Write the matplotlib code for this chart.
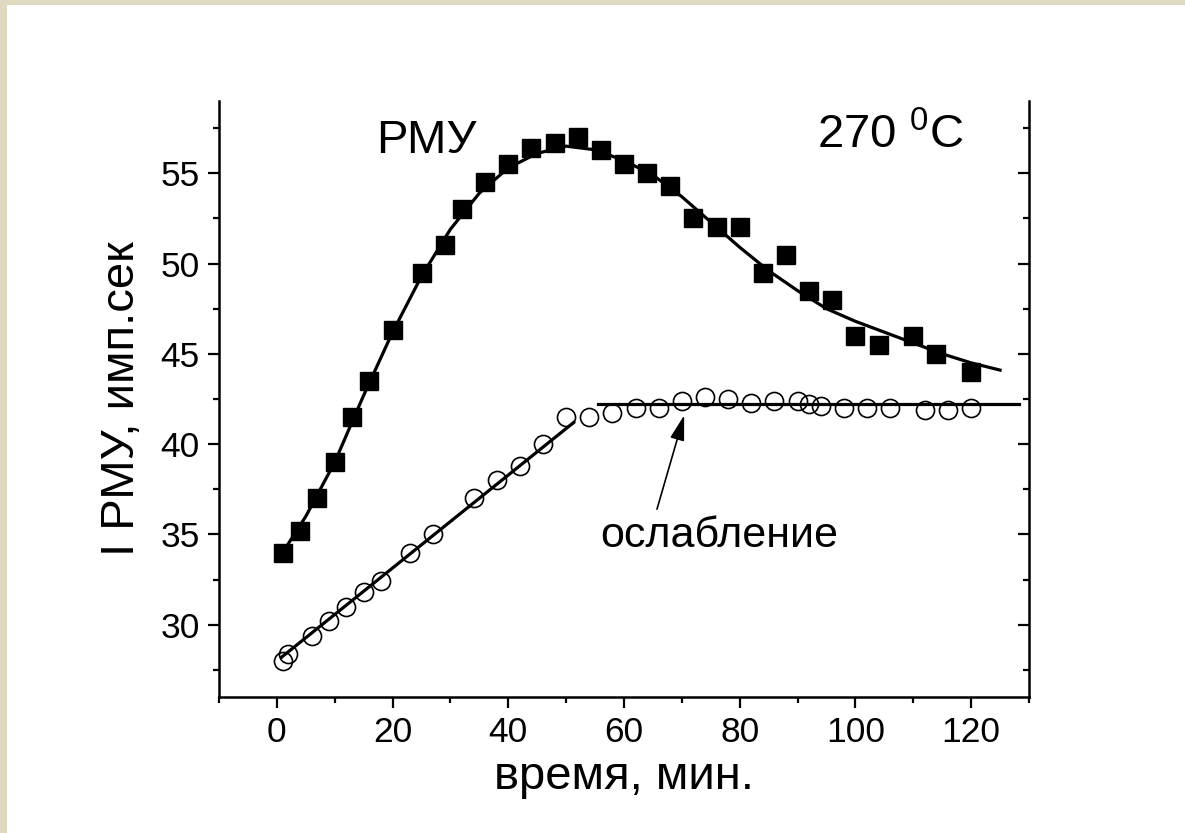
import matplotlib.pyplot as plt
from matplotlib.patches import Rectangle

plt.rcParams['font.family'] = ['Liberation Sans', 'DejaVu Sans']
plt.rcParams['mathtext.fontset'] = 'custom'
plt.rcParams['mathtext.rm'] = 'Liberation Sans'

# filled squares: PMY signal
sq_x = [1, 4, 7, 10, 13, 16, 20, 25, 29, 32, 36, 40, 44, 48, 52, 56, 60, 64,
        68, 72, 76, 80, 84, 88, 92, 96, 100, 104, 110, 114, 120]
sq_y = [34.0, 35.2, 37.0, 39.0, 41.5, 43.5, 46.3, 49.5, 51.0, 53.0, 54.5, 55.5,
        56.4, 56.7, 57.0, 56.3, 55.5, 55.0, 54.3, 52.5, 52.0, 52.0, 49.5, 50.5,
        48.5, 48.0, 46.0, 45.5, 46.0, 45.0, 44.0]

# smooth fit through squares
fit_x = [1, 5, 10, 15, 20, 25, 30, 35, 40, 45, 50, 55, 60, 65, 70, 75, 80,
         85, 90, 95, 100, 105, 110, 115, 120, 125]
fit_y = [34.0, 36.0, 39.0, 42.7, 46.2, 49.3, 51.9, 53.9, 55.3, 56.1, 56.5,
         56.3, 55.7, 54.9, 53.7, 52.3, 50.9, 49.6, 48.5, 47.5, 46.8, 46.2,
         45.6, 45.0, 44.5, 44.1]

# open circles
oc_x = [1, 2, 6, 9, 12, 15, 18, 23, 27, 34, 38, 42, 46, 50, 54, 58, 62, 66,
        70, 74, 78, 82, 86, 90, 92, 94, 98, 102, 106, 112, 116, 120]
oc_y = [28.0, 28.4, 29.4, 30.2, 31.0, 31.8, 32.4, 34.0, 35.0, 37.0, 38.0, 38.8,
        40.0, 41.5, 41.5, 41.7, 42.0, 42.0, 42.4, 42.6, 42.5, 42.3, 42.4, 42.4,
        42.2, 42.1, 42.0, 42.0, 42.0, 41.9, 41.9, 42.0]

lin_x = [0.8, 51.3]
lin_y = [28.2, 41.2]
flat_x = [55.5, 128.3]
flat_y = [42.25, 42.25]

fig = plt.figure(figsize=(11.85, 8.33), dpi=100)
fig.patch.set_facecolor('#dfd9c2')
fig.patches.append(Rectangle((7 / 1185, 0), 1, 1 - 5 / 833, transform=fig.transFigure,
                             facecolor='white', edgecolor='none', zorder=-1))

ax = fig.add_axes([219 / 1185, 1 - 697 / 833, 810 / 1185, 596 / 833])
ax.set_facecolor('none')

ax.plot(fit_x, fit_y, color='black', lw=2.3, zorder=2)
ax.plot(sq_x, sq_y, 's', color='black', ms=12.3, zorder=3)
ax.plot(lin_x, lin_y, color='black', lw=2.3, zorder=2)
ax.plot(flat_x, flat_y, color='black', lw=2.3, zorder=2)
ax.plot(oc_x, oc_y, 'o', mfc='none', mec='black', mew=1.2, ms=13, zorder=3)

ax.set_xlim(-10, 130)
ax.set_ylim(26, 59)
ax.set_xticks(range(0, 121, 20))
ax.set_xticks(range(-10, 131, 20), minor=True)
ax.set_yticks(range(30, 56, 5))
ax.set_yticks([27.5 + 5 * i for i in range(7)], minor=True)

ax.spines['top'].set_visible(False)
for s in ['left', 'right', 'bottom']:
    ax.spines[s].set_linewidth(1.8)

ax.tick_params(axis='both', which='major', labelsize=25.5, width=1.6, length=8, direction='out', pad=6)
ax.tick_params(axis='both', which='minor', width=1.6, length=4.5, direction='out')
ax.tick_params(axis='y', which='both', right=True, labelright=False)
# right-side ticks point inward
for t in ax.yaxis.get_major_ticks() + ax.yaxis.get_minor_ticks():
    t.tick2line.set_marker(0)

ax.set_xlabel('время, мин.', fontsize=34, labelpad=4)
ax.set_ylabel('I РМУ, имп.сек', fontsize=34, labelpad=12)

ax.text(17.1, 56.1, 'РМУ', fontsize=34, ha='left', va='baseline')
ax.text(93.4, 56.4, '270 $^{0}$C', fontsize=34, ha='left', va='baseline')
ax.text(76.4, 34.3, 'ослабление', fontsize=31, ha='center', va='baseline')
ax.annotate('', xy=(70.4, 41.6), xytext=(65.7, 36.4),
            arrowprops=dict(arrowstyle='-|>,head_length=0.7,head_width=0.2',
                            color='black', lw=1.2,
                            mutation_scale=22, shrinkA=0, shrinkB=0))

fig.savefig('out.png', dpi=100, facecolor=fig.get_facecolor())
